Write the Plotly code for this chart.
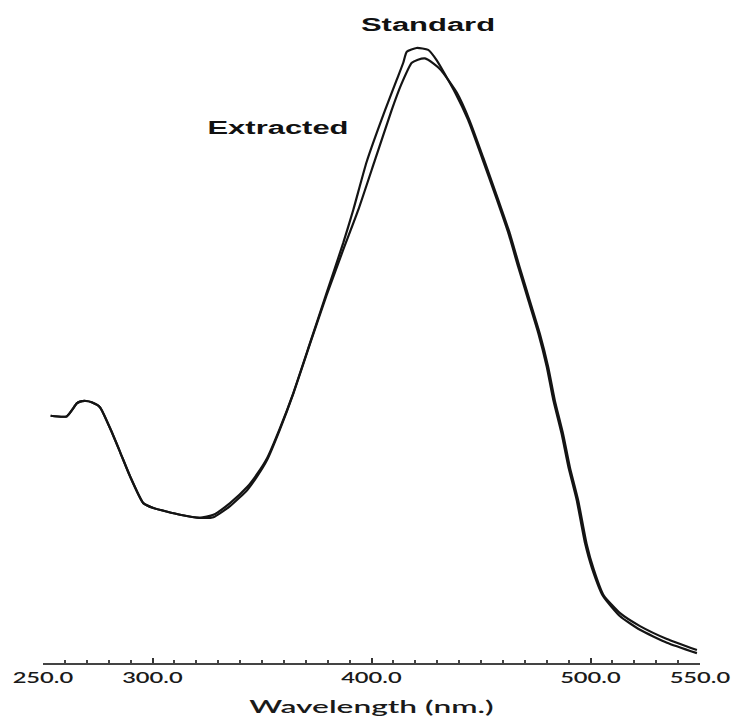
import plotly.graph_objects as go

# Absorption spectra (wavelength in nm, absorbance in arbitrary units)
wl_standard = [253.5, 260.8, 265.4, 266.9, 269.6, 272.2, 276.0, 280.6, 285.2, 289.7,
               295.8, 300.4, 312.6, 321.7, 327.8, 335.4, 343.2, 347.7, 352.3, 358.2,
               364.3, 371.9, 379.5, 387.1, 391.7, 397.8, 406.2, 411.5, 414.5, 416.1,
               420.6, 425.9, 429.8, 438.1, 444.1, 450.5, 457.3, 462.5, 467.0, 471.6,
               476.2, 480.0, 483.0, 486.8, 489.9, 493.7, 497.5, 500.7, 505.7, 513.5,
               522.6, 534.9, 548.6]
abs_standard = [0.402, 0.401, 0.422, 0.425, 0.426, 0.424, 0.416, 0.382, 0.343, 0.304,
                0.260, 0.252, 0.241, 0.236, 0.241, 0.260, 0.286, 0.307, 0.333, 0.382,
                0.439, 0.520, 0.602, 0.683, 0.737, 0.815, 0.899, 0.948, 0.976, 0.994,
                1.000, 0.997, 0.980, 0.928, 0.883, 0.821, 0.753, 0.699, 0.644, 0.590,
                0.536, 0.482, 0.428, 0.373, 0.319, 0.265, 0.195, 0.154, 0.109, 0.076,
                0.054, 0.033, 0.016]

wl_extracted = [253.5, 260.8, 265.4, 266.9, 269.6, 272.2, 276.0, 280.6, 285.2, 289.7,
                295.8, 300.4, 312.6, 321.7, 327.8, 335.4, 343.2, 347.7, 352.3, 358.2,
                364.3, 371.9, 379.5, 387.1, 394.0, 401.6, 409.2, 413.5, 418.4, 421.2,
                424.4, 428.2, 431.7, 439.0, 444.8, 451.2, 458.0, 463.2, 467.7, 472.3,
                476.9, 480.7, 483.7, 487.5, 490.6, 494.4, 498.2, 501.4, 506.0, 513.5,
                522.6, 534.9, 548.6]
abs_extracted = [0.402, 0.401, 0.422, 0.425, 0.426, 0.424, 0.416, 0.382, 0.343, 0.304,
                 0.260, 0.252, 0.241, 0.236, 0.237, 0.255, 0.281, 0.303, 0.330, 0.380,
                 0.438, 0.519, 0.598, 0.672, 0.737, 0.818, 0.899, 0.940, 0.976, 0.981,
                 0.983, 0.975, 0.964, 0.927, 0.882, 0.820, 0.752, 0.698, 0.643, 0.589,
                 0.535, 0.481, 0.427, 0.372, 0.318, 0.264, 0.194, 0.153, 0.110, 0.081,
                 0.060, 0.039, 0.021]

tick_values = [250, 300, 400, 500, 550]
tick_labels = ["250.0", "300.0", "400.0", "500.0", "550.0"]

series_labels = ["Standard", "Extracted"]
label_positions = [(425.6, 1.037), (357.1, 0.870)]

LINE = "#141414"

fig = go.Figure()
fig.add_trace(go.Scatter(x=wl_standard, y=abs_standard, mode="lines", name="Standard",
                         line=dict(color=LINE, width=2.2, shape="spline", smoothing=0.5)))
fig.add_trace(go.Scatter(x=wl_extracted, y=abs_extracted, mode="lines", name="Extracted",
                         line=dict(color=LINE, width=2.2, shape="spline", smoothing=0.5)))

for text, (lx, ly) in zip(series_labels, label_positions):
    fig.add_annotation(x=lx, y=ly, xref="x", yref="y", text=text, showarrow=False,
                       font=dict(family="Liberation Sans", size=18, color="#111111", weight="bold"),
                       xanchor="center", yanchor="middle")

fig.update_layout(
    width=734, height=717,
    margin=dict(l=43, r=34, t=20, b=54, autoexpand=False),
    paper_bgcolor="white", plot_bgcolor="white",
    showlegend=False,
    xaxis=dict(
        range=[250, 550], showgrid=False, zeroline=False, automargin=False,
        showline=True, linecolor="#444444", linewidth=1.5,
        tickmode="array", tickvals=tick_values, ticktext=tick_labels,
        ticks="inside", ticklen=5, tickwidth=1.5, tickcolor="#333333",
        minor=dict(tickmode="linear", tick0=250, dtick=10, ticks="inside",
                   ticklen=3, tickwidth=1.5, tickcolor="#444444"),
        tickfont=dict(family="Lato", size=15, color="#1a1a1a", weight=600),
        ticklabelstandoff=0,
        title=dict(text="Wavelength (nm.)", standoff=24,
                   font=dict(family="Lato", size=18, color="#1a1a1a", weight=600)),
    ),
    yaxis=dict(range=[0, 1.0455], visible=False),
)

# Widen the text horizontally (wide typeface look)
post_js = """
var gd = document.getElementById('{plot_id}');
function stretch(sel, s) {
  gd.querySelectorAll(sel).forEach(function (t) {
    var b = t.getBBox();
    var cx = b.x + b.width / 2;
    var tr = t.getAttribute('transform') || '';
    t.setAttribute('transform', tr + ' translate(' + cx + ',0) scale(' + s + ',1) translate(' + (-cx) + ',0)');
  });
}
stretch('.xtick text', 1.58);
stretch('.xtitle', 1.76);
stretch('.annotation-text', 1.72);
"""

fig.write_html("out.html", post_script=post_js)
